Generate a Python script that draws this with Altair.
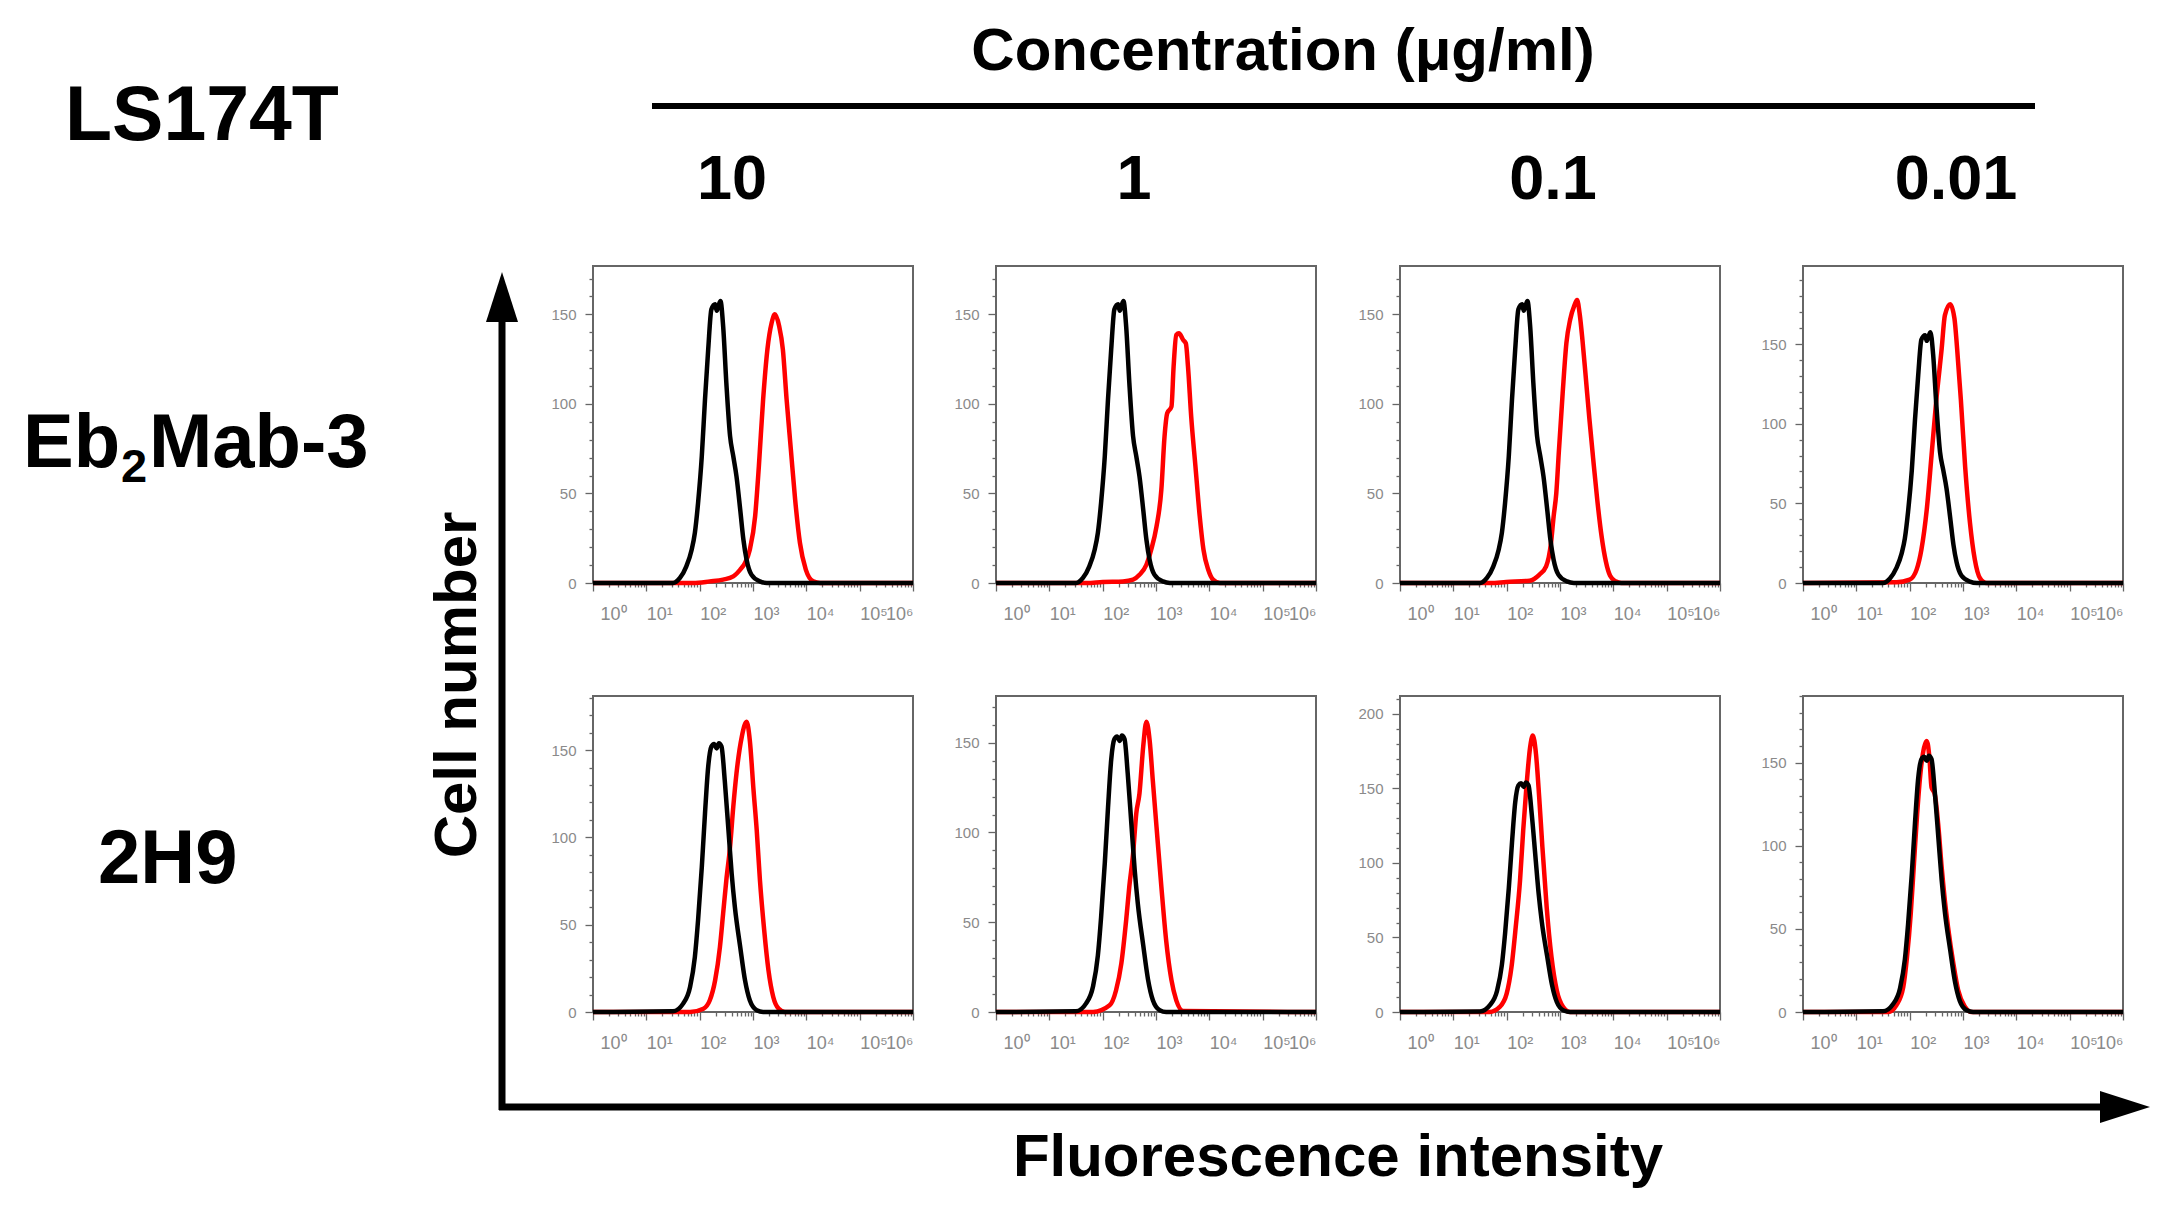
import altair as alt
import pandas as pd

# ---------------- data ----------------
# lx = log10(fluorescence intensity), n = cell count
CTRL_ROW1_LX = [0, 1.50, 1.63, 1.75, 1.85, 1.91, 1.97, 2.04, 2.10, 2.16, 2.22, 2.29, 2.32, 2.35, 2.39,
                2.44, 2.50, 2.57, 2.63, 2.69, 2.76, 2.82, 2.88, 2.97, 3.13, 3.26, 6]
CTRL_ROW1_N = [0, 0, 2.8, 9.3, 18.6, 28, 44.7, 70.8, 102.5, 130.4, 152.8, 155.6, 152, 154.6, 157.4,
               143.5, 111.8, 82, 70.8, 59.6, 41, 24.2, 13, 4.7, 0.9, 0, 0]

CTRL_ROW2_LX = [0, 1.50, 1.69, 1.82, 1.91, 1.97, 2.04, 2.10, 2.16, 2.22, 2.27, 2.32, 2.36, 2.41, 2.47,
                2.54, 2.60, 2.66, 2.76, 2.85, 2.94, 3.07, 3.19, 6]
CTRL_ROW2_N = [0, 0.4, 4.8, 14.3, 31.5, 52.6, 83, 113.7, 140.5, 152, 153.5, 151, 154, 152, 132.8,
               104, 79.3, 60.2, 37.3, 18.2, 6.7, 1, 0, 0]

EB_10_LX = [0, 1.88, 2.19, 2.44, 2.63, 2.76, 2.85, 2.94, 3.04, 3.11, 3.19, 3.27, 3.35, 3.41, 3.49,
            3.56, 3.63, 3.71, 3.79, 3.88, 3.99, 4.13, 4.26, 6]
EB_10_N = [0, 0, 0.9, 1.9, 3.7, 7.5, 11.2, 18.6, 37.3, 65.2, 102.5, 130.4, 145.3, 150, 143.5,
           130.4, 102.5, 74.5, 46.6, 22.4, 7.5, 0.9, 0, 0]

EB_1_LX = [0, 1.7, 2.0, 2.38, 2.57, 2.69, 2.82, 2.91, 3.01, 3.10, 3.16, 3.21, 3.29, 3.33, 3.38,
           3.43, 3.51, 3.56, 3.60, 3.66, 3.74, 3.82, 3.89, 3.98, 4.07, 4.20, 6]
EB_1_N = [0, 0, 0.6, 0.9, 1.9, 4.6, 10.2, 18.6, 31.6, 52, 81.8, 94.8, 98.5, 120.8, 138.5,
          139.4, 135.7, 133.8, 120.8, 92.9, 65, 37.2, 18.6, 7.4, 1.9, 0, 0]

EB_01_LX = [0, 1.7, 1.99, 2.43, 2.61, 2.74, 2.83, 2.88, 2.93, 2.98, 3.05, 3.12, 3.19, 3.27, 3.32,
            3.37, 3.42, 3.48, 3.55, 3.62, 3.70, 3.78, 3.86, 3.94, 4.04, 4.15, 6]
EB_01_N = [0, 0, 0.6, 1.3, 4.6, 9.3, 22, 37, 50, 74, 106, 134, 147, 155, 158,
           150, 136, 116, 92, 70, 46, 26, 12, 4, 1, 0, 0]

EB_001_LX = [0, 1.75, 2.0, 2.13, 2.22, 2.32, 2.41, 2.50, 2.60, 2.66, 2.76, 2.84, 2.89, 2.96, 3.04,
             3.13, 3.22, 3.32, 3.44, 6]
EB_001_N = [0, 0.4, 2.1, 8.4, 21, 46, 80, 115, 147, 168, 175, 166, 147, 115, 73,
            38, 15, 3, 0, 0]

H9_10_LX = [0, 1.82, 2.07, 2.19, 2.29, 2.38, 2.44, 2.50, 2.57, 2.63, 2.69, 2.79, 2.88, 2.94, 3.01,
            3.07, 3.13, 3.21, 3.29, 3.38, 3.48, 3.60, 6]
H9_10_N = [0, 0, 1.9, 6.7, 18.2, 37.3, 56.4, 75.5, 94.6, 117.5, 136.6, 157.7, 166.3, 155.7, 127,
           104, 75.5, 46.8, 23.9, 8.6, 1.9, 0, 0]

H9_1_LX = [0, 1.82, 2.13, 2.25, 2.35, 2.44, 2.50, 2.57, 2.63, 2.69, 2.76, 2.82, 2.88, 2.94, 3.01,
           3.10, 3.19, 3.29, 3.38, 3.51, 6]
H9_1_N = [0, 0, 3.7, 12, 27, 51, 70, 88, 110.6, 121.7, 147.8, 161.7, 151.5, 129, 103,
          70, 40, 17.7, 6.5, 0.6, 0]

H9_01_LX = [0, 1.68, 1.87, 2.0, 2.09, 2.17, 2.25, 2.31, 2.37, 2.44, 2.49, 2.55, 2.61, 2.67, 2.75,
            2.84, 2.94, 3.06, 3.19, 6]
H9_01_N = [0, 0, 3.4, 12.3, 30, 57, 88, 121.8, 150.8, 177.7, 185.5, 173, 144, 110.6, 70.4,
           37, 14.5, 3.4, 0, 0]

H9_001_LX = [0, 1.60, 1.75, 1.88, 1.95, 2.02, 2.08, 2.14, 2.20, 2.27, 2.32, 2.37, 2.41, 2.47, 2.54,
             2.60, 2.66, 2.72, 2.82, 2.91, 3.04, 3.16, 6]
H9_001_N = [0, 0, 4, 15, 33, 59, 89, 119, 143, 159, 163, 153, 135, 131, 111,
            87, 67, 51, 29, 13, 3, 0, 0]

CONCENTRATIONS = ["10", "1", "0.1", "0.01"]
ANTIBODIES = ["Eb2Mab-3", "2H9"]
Y_MAX = [[177, 177, 177, 199], [181, 176, 212, 190]]
Y_TICKS = list(range(0, 211, 10))
X_TICKS = [m * 10 ** k for k in range(6) for m in range(1, 10)] + [10 ** 6]

CTRL = [(CTRL_ROW1_LX, CTRL_ROW1_N), (CTRL_ROW2_LX, CTRL_ROW2_N)]
STAINED = [[(EB_10_LX, EB_10_N), (EB_1_LX, EB_1_N), (EB_01_LX, EB_01_N), (EB_001_LX, EB_001_N)],
           [(H9_10_LX, H9_10_N), (H9_1_LX, H9_1_N), (H9_01_LX, H9_01_N), (H9_001_LX, H9_001_N)]]

# ---------------- layout ----------------
W, H = 2159, 1195
PANEL_LEFT = [585, 988, 1392, 1795]
PANEL_W = 320
PANEL_TOP = [258, 688]
PANEL_BOTTOM = [575, 1004]
FONT = "Liberation Sans"
GRID = "#666666"
LABEL = "#8a8a8a"

X_MAJOR_TEST = "abs(log(datum.value)/LN10 - round(log(datum.value)/LN10)) < 0.001"
X_LABEL_EXPR = (X_MAJOR_TEST + " ? '10' + ['⁰','¹','²','³','⁴','⁵','⁶'][round(log(datum.value)/LN10)] : ''")


def panel(row, col):
    x0 = PANEL_LEFT[col]
    ytop, ybot = PANEL_TOP[row], PANEL_BOTTOM[row]
    ymax = Y_MAX[row][col]
    xscale = alt.Scale(type="log", domain=[1, 10 ** 6], range=[x0, x0 + PANEL_W], nice=False)
    yscale = alt.Scale(domain=[0, ymax], range=[ybot, ytop], nice=False, zero=False)
    yticks = [t for t in Y_TICKS if t <= ymax]

    xaxis = alt.Axis(orient="bottom", offset=ybot - H, values=X_TICKS, title=None, grid=False,
                     domain=False, tickColor=GRID, tickWidth=1.3,
                     tickSize={"condition": {"test": X_MAJOR_TEST, "value": 8}, "value": 4},
                     labelExpr=X_LABEL_EXPR, labelFont=FONT, labelFontSize=18, labelColor=LABEL,
                     labelAlign={"condition": {"test": "datum.value >= 1000000", "value": "right"},
                                 "value": "left"},
                     labelOffset={"condition": {"test": "datum.value <= 1", "value": 7}, "value": 0},
                     labelPadding=14, labelFlush=False, labelOverlap=False, labelBound=False)
    yaxis = alt.Axis(orient="left", offset=-x0, values=yticks, title=None, grid=False,
                     domain=False, tickColor=GRID, tickWidth=1.3,
                     tickSize={"condition": {"test": "datum.value % 50 === 0", "value": 8}, "value": 4},
                     labelExpr="datum.value % 50 === 0 ? datum.label : ''", labelFont=FONT,
                     labelFontSize=15, labelColor=LABEL, labelPadding=9, labelOverlap=False,
                     labelBound=False, labelFlush=False)

    c_lx, c_n = CTRL[row]
    s_lx, s_n = STAINED[row][col]
    df_c = pd.DataFrame({"lx": c_lx, "n": c_n})
    df_s = pd.DataFrame({"lx": s_lx, "n": s_n})
    df_f = pd.DataFrame({"f0": [1], "f1": [10 ** 6], "n0": [0], "n1": [ymax]})

    frame = alt.Chart(df_f).mark_rect(fill=None, stroke=GRID, strokeWidth=2).encode(
        x=alt.X("f0:Q", scale=xscale, axis=xaxis), x2="f1:Q",
        y=alt.Y("n0:Q", scale=yscale, axis=yaxis), y2="n1:Q")
    red = alt.Chart(df_s).transform_calculate(fl="pow(10, datum.lx)").mark_line(
        color="#ff0000", strokeWidth=4.5, strokeJoin="round", interpolate="monotone").encode(
        x=alt.X("fl:Q", scale=xscale, axis=xaxis),
        y=alt.Y("n:Q", scale=yscale, axis=yaxis),
        order="lx:Q")
    black = alt.Chart(df_c).transform_calculate(fl="pow(10, datum.lx)").mark_line(
        color="#000000", strokeWidth=4.5, strokeJoin="round", interpolate="monotone").encode(
        x=alt.X("fl:Q", scale=xscale, axis=xaxis),
        y=alt.Y("n:Q", scale=yscale, axis=yaxis),
        order="lx:Q")
    return alt.layer(frame, red, black)


def text(s, x, y, size, align="left", angle=0, baseline="alphabetic"):
    return alt.Chart(alt.Data(values=[{"t": s}])).mark_text(
        align=align, baseline=baseline, fontSize=size, fontWeight="bold", font=FONT,
        angle=angle, color="black").encode(x=alt.value(x), y=alt.value(y), text="t:N")


one = alt.Data(values=[{"a": 1}])
annotations = [
    text("LS174T", 57, 132, 77),
    text("Concentration (μg/ml)", 1275, 62, 60, align="center"),
    alt.Chart(one).mark_rule(strokeWidth=6, color="black").encode(
        x=alt.value(644), x2=alt.value(2027), y=alt.value(98)),
    text(CONCENTRATIONS[0], 724, 191, 63, align="center"),
    text(CONCENTRATIONS[1], 1126, 191, 63, align="center"),
    text(CONCENTRATIONS[2], 1545, 191, 63, align="center"),
    text(CONCENTRATIONS[3], 1948, 191, 63, align="center"),
    text("Eb", 15, 459, 76),
    text("2", 113, 474, 47),
    text("Mab-3", 141, 459, 76),
    text(ANTIBODIES[1], 90, 875, 76),
    text("Cell number", 468, 677, 60, align="center", angle=270),
    text("Fluorescence intensity", 1330, 1168, 60, align="center"),
    alt.Chart(one).mark_rule(strokeWidth=7, color="black").encode(
        x=alt.value(494), y=alt.value(300), y2=alt.value(1102)),
    alt.Chart(one).mark_rule(strokeWidth=7, color="black").encode(
        x=alt.value(491), x2=alt.value(2120), y=alt.value(1099)),
    alt.Chart(one).mark_point(shape="M -0.64 1 L 0 -1 L 0.64 1 Z", size=2500, filled=True,
                              color="black", opacity=1, strokeWidth=0).encode(
        x=alt.value(494), y=alt.value(289)),
    alt.Chart(one).mark_point(shape="M -1 -0.64 L 1 0 L -1 0.64 Z", size=2500, filled=True,
                              color="black", opacity=1, strokeWidth=0).encode(
        x=alt.value(2117), y=alt.value(1099)),
]

panels = [panel(r, c) for r in range(2) for c in range(4)]

chart = alt.layer(*panels, *annotations).resolve_scale(
    x="independent", y="independent").properties(
    width=W, height=H, autosize=alt.AutoSizeParams(type="none"), padding=0
).configure_view(stroke=None)

chart.save("out.html", embed_options={"renderer": "svg", "actions": False})
